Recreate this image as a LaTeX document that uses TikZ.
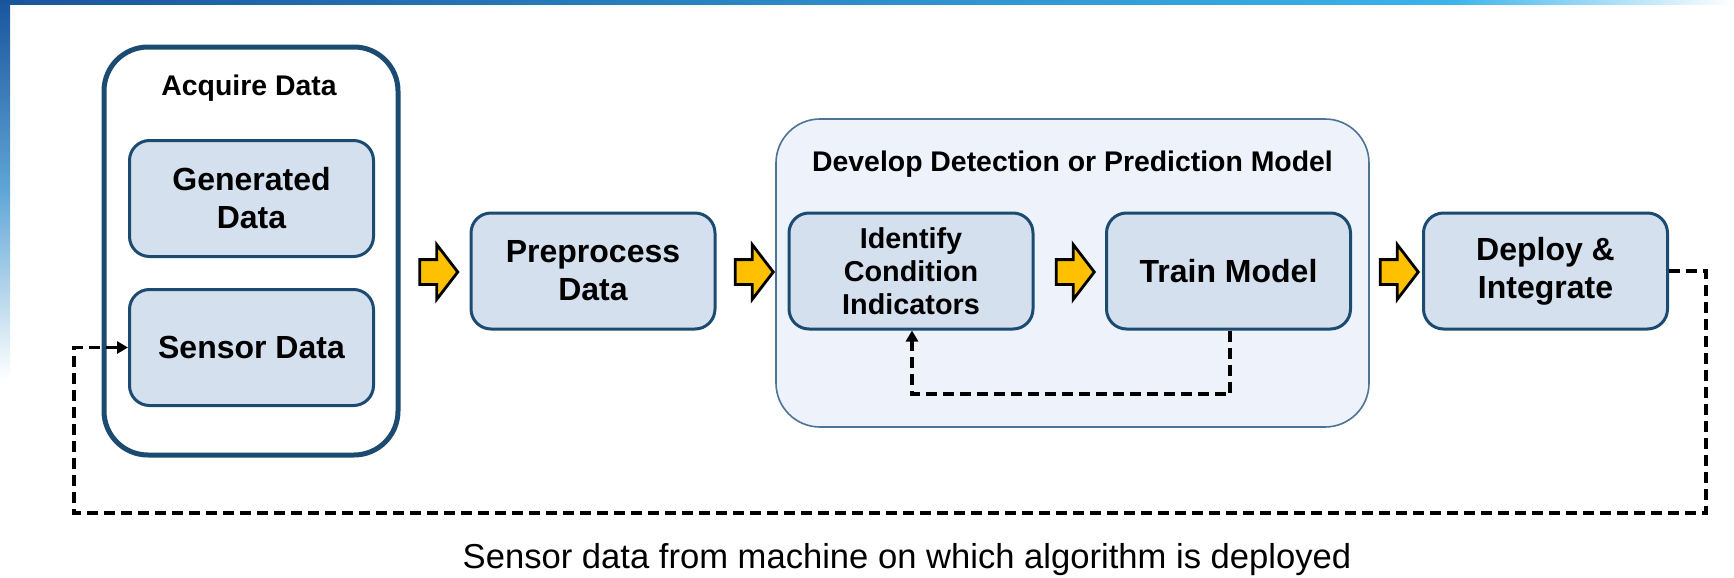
\documentclass[tikz,border=0pt]{standalone}
\usepackage{fontspec}
\setmainfont{Liberation Sans}
\usetikzlibrary{shapes.arrows,arrows.meta}
\definecolor{boxfill}{HTML}{D5E0EE}
\definecolor{boxdraw}{HTML}{1C4B72}
\definecolor{devfill}{HTML}{EDF2FB}
\definecolor{devdraw}{HTML}{4E7395}
\definecolor{arrowyellow}{HTML}{FFC000}
\definecolor{bardark}{HTML}{1A559C}
\definecolor{barmid}{HTML}{3AB4EA}
\definecolor{sidemid}{HTML}{5FA6D6}
\begin{document}
\begin{tikzpicture}[x=0.5pt,y=-0.5pt,
  stepbox/.style={draw=boxdraw, line width=1.5pt, fill=boxfill, rounded corners=10pt,
    minimum width=122pt, minimum height=58pt, inner sep=0pt, align=center,
    font=\fontsize{16}{19}\selectfont\bfseries},
  groupbox/.style={draw=boxdraw, line width=2.5pt, fill=white, rounded corners=22pt, inner sep=0pt},
  devbox/.style={draw=devdraw, line width=0.8pt, fill=devfill, rounded corners=22pt, inner sep=0pt},
  grouptitle/.style={font=\fontsize{14.2}{16}\selectfont\bfseries, anchor=base, inner sep=0pt},
  flowarrow/.style={single arrow, draw=black, line width=1.4pt, fill=arrowyellow,
    inner xsep=2pt, inner ysep=5.5pt, single arrow head extend=7.5pt,
    single arrow tip angle=105, minimum height=19pt},
  dashline/.style={line width=1.8pt, dash pattern=on 5.5pt off 3pt},
  tipend/.style={-{Triangle[length=5.5pt,width=6pt]}}
]
\useasboundingbox (0,0) rectangle (1734,578);
% decorative bars
\shade[left color=bardark, right color=barmid] (0,0) rectangle (1450,4);
\shade[left color=barmid, right color=white] (1450,0) rectangle (1734,4);
\shade[top color=bardark, bottom color=white, middle color=sidemid] (0,0) rectangle (10,380);

% Acquire data group
\node[groupbox, minimum width=147pt, minimum height=204pt] (acq) at (251,251) {};
\node[grouptitle] (acqtitle) at (249,95) {Acquire Data};
\node[stepbox] (gen) at (251.5,198.5) {Generated\\Data};
\node[stepbox] (sensor) at (251.5,347.5) {Sensor Data};

% Preprocess
\node[stepbox] (pre) at (593,271) {Preprocess\\Data};

% Develop group
\node[devbox, minimum width=296.5pt, minimum height=154pt] (dev) at (1072.5,273) {};
\node[grouptitle] (devtitle) at (1072.5,171) {Develop Detection or Prediction Model};
\node[stepbox, font=\fontsize{14.4}{16.5}\selectfont\bfseries] (ident) at (911,271) {Identify\\Condition\\Indicators};
\node[stepbox] (train) at (1228.5,271) {Train Model};

% Deploy
\node[stepbox] (deploy) at (1545.5,271) {Deploy \&\\Integrate};

% yellow flow arrows
\node[flowarrow] (a1) at (434,272) {};
\node[flowarrow] (a2) at (749.5,272) {};
\node[flowarrow] (a3) at (1070.5,272) {};
\node[flowarrow] (a4) at (1394.5,272) {};

% inner feedback loop
\coordinate (l1) at (1230,394);
\coordinate (l2) at (912,394);
\draw[dashline, tipend] (train.south -| l1) -- (l1) -- (l2) -- (ident.south -| l2);

% outer feedback loop
\coordinate (c2) at (1706,513);
\coordinate (c3) at (74,513);
\draw[dashline, tipend] (deploy.east) -- (deploy.east -| c2) -- (c2) -- (c3) -- (sensor.west -| c3) -- (sensor.west);

% caption
\node[anchor=base, inner sep=0pt, font=\fontsize{17.3}{20}\selectfont] (caption) at (907,568)
  {Sensor data from machine on which algorithm is deployed};
\end{tikzpicture}
\end{document}
